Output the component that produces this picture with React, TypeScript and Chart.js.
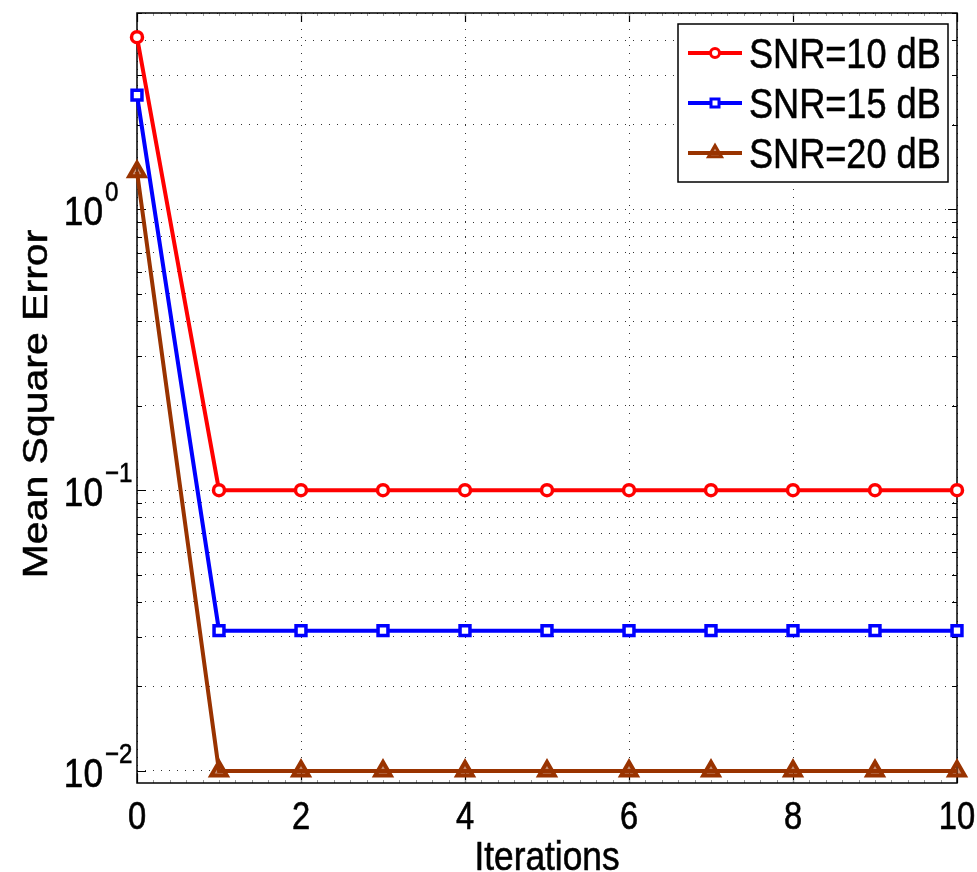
import React, { useEffect, useRef } from "react";
import { Chart, registerables } from "chart.js";

Chart.register(...registerables);

// ---------- data ----------
const iterations = [0, 1, 2, 3, 4, 5, 6, 7, 8, 9, 10];
const mseSnr10 = [4.1, 0.1, 0.1, 0.1, 0.1, 0.1, 0.1, 0.1, 0.1, 0.1, 0.1];
const mseSnr15 = [2.55, 0.0316, 0.0316, 0.0316, 0.0316, 0.0316, 0.0316, 0.0316, 0.0316, 0.0316, 0.0316];
const mseSnr20 = [1.36, 0.01, 0.01, 0.01, 0.01, 0.01, 0.01, 0.01, 0.01, 0.01, 0.01];
const seriesLabels = ["SNR=10 dB", "SNR=15 dB", "SNR=20 dB"];

const xTicks = [0, 2, 4, 6, 8, 10];
const yDecadeTicks = [0.01, 0.1, 1];
const yDecadeExponents = ["\u22122", "\u22121", "0"];
const yGridValues = [
  0.01, 0.02, 0.03, 0.04, 0.05, 0.06, 0.07, 0.08, 0.09,
  0.1, 0.2, 0.3, 0.4, 0.5, 0.6, 0.7, 0.8, 0.9,
  1, 2, 3, 4, 5,
];
const xTitle = "Iterations";
const yTitle = "Mean Square Error";

// ---------- style ----------
const FONT = '"Liberation Sans", Arial, Helvetica, sans-serif';
const SX = 0.86; // horizontal squish of the original figure's text
const RED = "#ff0000";
const BLUE = "#0000ff";
const BROWN = "#993300";

function drawText(
  ctx: CanvasRenderingContext2D,
  text: string,
  x: number,
  y: number,
  size: number,
  align: CanvasTextAlign,
  baseline: CanvasTextBaseline
) {
  ctx.save();
  ctx.font = `${size}px ${FONT}`;
  ctx.fillStyle = "#000";
  ctx.strokeStyle = "#000";
  ctx.lineWidth = 0.6;
  ctx.textAlign = align;
  ctx.textBaseline = baseline;
  ctx.scale(SX, 1);
  ctx.fillText(text, x / SX, y);
  ctx.strokeText(text, x / SX, y);
  ctx.restore();
}

function drawMarker(
  ctx: CanvasRenderingContext2D,
  style: string,
  x: number,
  y: number,
  r: number,
  color: string,
  fill: string,
  lw: number
) {
  ctx.save();
  ctx.strokeStyle = color;
  ctx.fillStyle = fill;
  ctx.lineWidth = lw;
  ctx.beginPath();
  if (style === "circle") {
    ctx.arc(x, y, r, 0, Math.PI * 2);
  } else if (style === "rect") {
    ctx.rect(x - r, y - r, 2 * r, 2 * r);
  } else {
    ctx.moveTo(x, y - r);
    ctx.lineTo(x + r * 0.866, y + r / 2);
    ctx.lineTo(x - r * 0.866, y + r / 2);
    ctx.closePath();
  }
  ctx.fill();
  ctx.stroke();
  ctx.restore();
}

const frameAndTicksPlugin = {
  id: "frameAndTicks",
  beforeDatasetsDraw(chart: any) {
    const { ctx, chartArea, scales } = chart;
    const { left, right, top, bottom } = chartArea;
    const xs = scales.x;
    const ys = scales.y;
    ctx.save();
    ctx.strokeStyle = "#000";
    ctx.lineWidth = 1.2;
    ctx.beginPath();
    yGridValues.forEach((v) => {
      const py = Math.round(ys.getPixelForValue(v)) + 0.5;
      const len = yDecadeTicks.includes(v) ? 9 : 5;
      ctx.moveTo(left, py);
      ctx.lineTo(left + len, py);
      ctx.moveTo(right, py);
      ctx.lineTo(right - len, py);
    });
    xTicks.forEach((v) => {
      const px = Math.round(xs.getPixelForValue(v)) + 0.5;
      ctx.moveTo(px, bottom);
      ctx.lineTo(px, bottom - 9);
      ctx.moveTo(px, top);
      ctx.lineTo(px, top + 9);
    });
    ctx.stroke();
    ctx.strokeStyle = "#999";
    ctx.lineWidth = 1;
    ctx.beginPath();
    for (let k = 1; k < 50; k++) {
      const px = Math.round(xs.getPixelForValue(k / 5)) + 0.5;
      ctx.moveTo(px, bottom);
      ctx.lineTo(px, bottom - 3);
      ctx.moveTo(px, top);
      ctx.lineTo(px, top + 3);
    }
    ctx.stroke();
    ctx.strokeStyle = "#000";
    ctx.lineWidth = 1.5;
    ctx.strokeRect(left, top, right - left, bottom - top);
    ctx.restore();
  },
  afterDraw(chart: any) {
    const { ctx, chartArea, scales } = chart;
    const xs = scales.x;
    const ys = scales.y;
    xTicks.forEach((v) => {
      drawText(ctx, String(v), xs.getPixelForValue(v), 829, 38, "center", "alphabetic");
    });
    yDecadeTicks.forEach((v, i) => {
      const py = ys.getPixelForValue(v);
      drawText(ctx, "10", 103, py + 16, 41, "right", "alphabetic");
      drawText(ctx, yDecadeExponents[i], 105, py - 8, 28, "left", "alphabetic");
    });
    drawText(ctx, xTitle, (chartArea.left + chartArea.right) / 2, 870, 41, "center", "alphabetic");
    ctx.save();
    ctx.translate(47, 404);
    ctx.scale(SX, 1);
    ctx.rotate(-Math.PI / 2);
    ctx.font = `41px ${FONT}`;
    ctx.fillStyle = "#000";
    ctx.strokeStyle = "#000";
    ctx.lineWidth = 0.6;
    ctx.textAlign = "center";
    ctx.textBaseline = "alphabetic";
    ctx.fillText(yTitle, 0, 0);
    ctx.strokeText(yTitle, 0, 0);
    ctx.restore();

    // legend
    const bx = 678, by = 24, bw = 270, bh = 158;
    ctx.save();
    ctx.fillStyle = "#fff";
    ctx.fillRect(bx, by, bw, bh);
    ctx.strokeStyle = "#000";
    ctx.lineWidth = 1.5;
    ctx.strokeRect(bx, by, bw, bh);
    ctx.restore();
    chart.data.datasets.forEach((ds: any, i: number) => {
      const rowY = 53 + i * 50;
      ctx.save();
      ctx.strokeStyle = ds.borderColor;
      ctx.lineWidth = 4;
      ctx.beginPath();
      ctx.moveTo(688, rowY);
      ctx.lineTo(742, rowY);
      ctx.stroke();
      ctx.restore();
      const style = ds.pointStyle;
      const r = style === "circle" ? 4.5 : style === "rect" ? 4 : 7.5;
      drawMarker(ctx, style, 715, rowY, r, ds.borderColor, ds.pointBackgroundColor, 3);
      drawText(ctx, ds.label, 749, rowY + 15, 42, "left", "alphabetic");
    });
  },
};

export default function App() {
  const ref = useRef<HTMLCanvasElement>(null);

  useEffect(() => {
    if (!ref.current) return;
    const mk = (vals: number[]) => iterations.map((x, i) => ({ x, y: vals[i] }));
    const chart = new Chart(ref.current, {
      type: "line",
      data: {
        datasets: [
          {
            label: seriesLabels[0],
            data: mk(mseSnr10),
            borderColor: RED,
            backgroundColor: "#fff",
            borderWidth: 4,
            pointStyle: "circle",
            pointRadius: 5.5,
            pointBorderWidth: 3.5,
            pointBackgroundColor: "#fff",
            pointBorderColor: RED,
            clip: false,
          },
          {
            label: seriesLabels[1],
            data: mk(mseSnr15),
            borderColor: BLUE,
            backgroundColor: "#fff",
            borderWidth: 4,
            pointStyle: "rect",
            pointRadius: 7,
            pointBorderWidth: 3.5,
            pointBackgroundColor: "#fff",
            pointBorderColor: BLUE,
            clip: false,
          },
          {
            label: seriesLabels[2],
            data: mk(mseSnr20),
            borderColor: BROWN,
            backgroundColor: "#fff",
            borderWidth: 4,
            pointStyle: "triangle",
            pointRadius: 9,
            pointBorderWidth: 4,
            pointBackgroundColor: "rgba(153,51,0,0.55)",
            pointBorderColor: BROWN,
            clip: false,
          },
        ] as any,
      },
      options: {
        responsive: false,
        animation: false,
        devicePixelRatio: 1,
        layout: { padding: { left: 137, top: 13, right: 20, bottom: 89 }, autoPadding: false } as any,
        elements: { line: { tension: 0 } },
        plugins: { legend: { display: false }, tooltip: { enabled: false } },
        events: [],
        scales: {
          x: {
            type: "linear",
            min: 0,
            max: 10,
            afterBuildTicks: (scale: any) => {
              scale.ticks = xTicks.map((v) => ({ value: v }));
            },
            ticks: { display: false },
            grid: { color: "rgba(0,0,0,0.8)", lineWidth: 1, drawTicks: false },
            border: { display: false, dash: [1, 7] },
          },
          y: {
            type: "logarithmic",
            min: 0.00906,
            max: 5,
            afterBuildTicks: (scale: any) => {
              scale.ticks = yGridValues.map((v) => ({ value: v }));
            },
            ticks: { display: false },
            grid: { color: "rgba(0,0,0,0.8)", lineWidth: 1, drawTicks: false },
            border: { display: false, dash: [1, 7] },
          },
        },
      } as any,
      plugins: [frameAndTicksPlugin],
    });
    return () => chart.destroy();
  }, []);

  return (
    <div style={{ position: "absolute", left: 0, top: 0, width: 977, height: 872, background: "#fff" }}>
      <canvas ref={ref} width={977} height={872} style={{ display: "block", width: 977, height: 872 }} />
    </div>
  );
}
